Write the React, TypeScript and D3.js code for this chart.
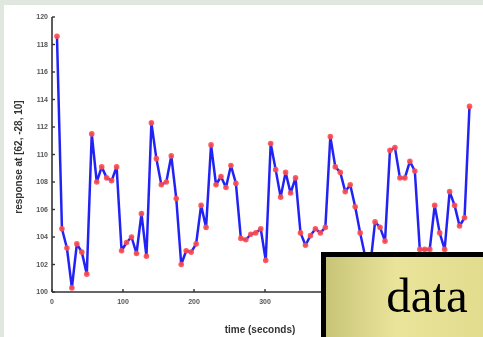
import React from "react";
import * as d3 from "d3";

const TR = 7;
const responseValues: number[] = [
  118.6, 104.6, 103.2, 100.3, 103.5, 102.9, 101.3, 111.5, 108.0, 109.1,
  108.3, 108.1, 109.1, 103.0, 103.6, 104.0, 102.8, 105.7, 102.6, 112.3,
  109.7, 107.8, 108.0, 109.9, 106.8, 102.0, 103.0, 102.9, 103.5, 106.3,
  104.7, 110.7, 107.8, 108.4, 107.6, 109.2, 107.9, 103.9, 103.8, 104.2,
  104.3, 104.6, 102.3, 110.8, 108.9, 106.9, 108.7, 107.2, 108.3, 104.3,
  103.4, 104.1, 104.6, 104.3, 104.7, 111.3, 109.1, 108.7, 107.3, 107.8,
  106.2, 104.3, 102.6, 101.8, 105.1, 104.7, 103.7, 110.3, 110.5, 108.3,
  108.3, 109.5, 108.8, 103.1, 103.1, 103.1, 106.3, 104.3, 103.1, 107.3,
  106.3, 104.8, 105.4, 113.5,
];
const yTicks: number[] = [100, 102, 104, 106, 108, 110, 112, 114, 116, 118, 120];
const xTicks: number[] = [0, 100, 200, 300];
const yLabel = "response at [62, -28, 10]";
const xLabel = "time (seconds)";
const boxText = "data";

export default function App() {
  const W = 483;
  const H = 337;
  const points = responseValues.map((v, i) => ({ t: (i + 1) * TR, v }));
  const x = d3.scaleLinear().domain([0, points.length * TR]).range([52, 469.5]);
  const y = d3.scaleLinear().domain([100, 120]).range([292, 17]);
  const line = d3
    .line<{ t: number; v: number }>()
    .x((d) => x(d.t))
    .y((d) => y(d.v));
  const axisColor = "#333";
  const tickColor = "#555";
  return (
    <svg
      width={W}
      height={H}
      style={{ position: "absolute", left: 0, top: 0 }}
      fontFamily="Liberation Sans, Arial, sans-serif"
    >
      <defs>
        <linearGradient id="boxGrad" x1="0" y1="0" x2="1" y2="0">
          <stop offset="0%" stopColor="#c8c477" />
          <stop offset="45%" stopColor="#e9e49a" />
          <stop offset="100%" stopColor="#e2dc8e" />
        </linearGradient>
        <filter id="soft" x="-5%" y="-5%" width="110%" height="110%">
          <feGaussianBlur stdDeviation="0.45" />
        </filter>
      </defs>
      <rect x={0} y={0} width={W} height={H} fill="#dfe7de" />
      <rect x={4} y={5} width={W - 4} height={H - 5} fill="#ffffff" />
      <g filter="url(#soft)">
        <line x1={52} x2={52} y1={y(120)} y2={292} stroke={axisColor} strokeWidth={1.6} />
        <line x1={52} x2={x(588)} y1={292} y2={292} stroke={axisColor} strokeWidth={1.6} />
        {yTicks.map((t) => (
          <g key={"y" + t}>
            <line x1={52} x2={55} y1={y(t)} y2={y(t)} stroke={axisColor} strokeWidth={1.4} />
            <text
              x={48}
              y={y(t)}
              dy="0.35em"
              textAnchor="end"
              fontSize={7}
              fontWeight="bold"
              fill={tickColor}
            >
              {t}
            </text>
          </g>
        ))}
        {xTicks.map((t) => (
          <g key={"x" + t}>
            <line x1={x(t)} x2={x(t)} y1={292} y2={289} stroke={axisColor} strokeWidth={1.4} />
            <text
              x={x(t)}
              y={302}
              dy="0.35em"
              textAnchor="middle"
              fontSize={7}
              fontWeight="bold"
              fill={tickColor}
            >
              {t}
            </text>
          </g>
        ))}
        <text
          transform={`translate(22, 157) rotate(-90)`}
          textAnchor="middle"
          fontSize={10}
          fontWeight="bold"
          fill="#333"
        >
          {yLabel}
        </text>
        <text x={260} y={333} textAnchor="middle" fontSize={10} fontWeight="bold" fill="#333">
          {xLabel}
        </text>
        <path d={line(points) || ""} fill="none" stroke="#2424f5" strokeWidth={2.5} strokeLinejoin="round" />
        {points.map((p, i) => (
          <circle key={i} cx={x(p.t)} cy={y(p.v)} r={2.8} fill="#ff4a4a" opacity={0.9} />
        ))}
      </g>
      <rect x={321} y={252} width={W - 321} height={H - 252} fill="#000" />
      <rect x={326} y={257} width={W - 326} height={H - 257} fill="url(#boxGrad)" />
      <text
        x={427}
        y={312}
        textAnchor="middle"
        fontFamily="Liberation Serif, Times New Roman, serif"
        fontSize={49}
        fill="#000"
      >
        {boxText}
      </text>
    </svg>
  );
}
